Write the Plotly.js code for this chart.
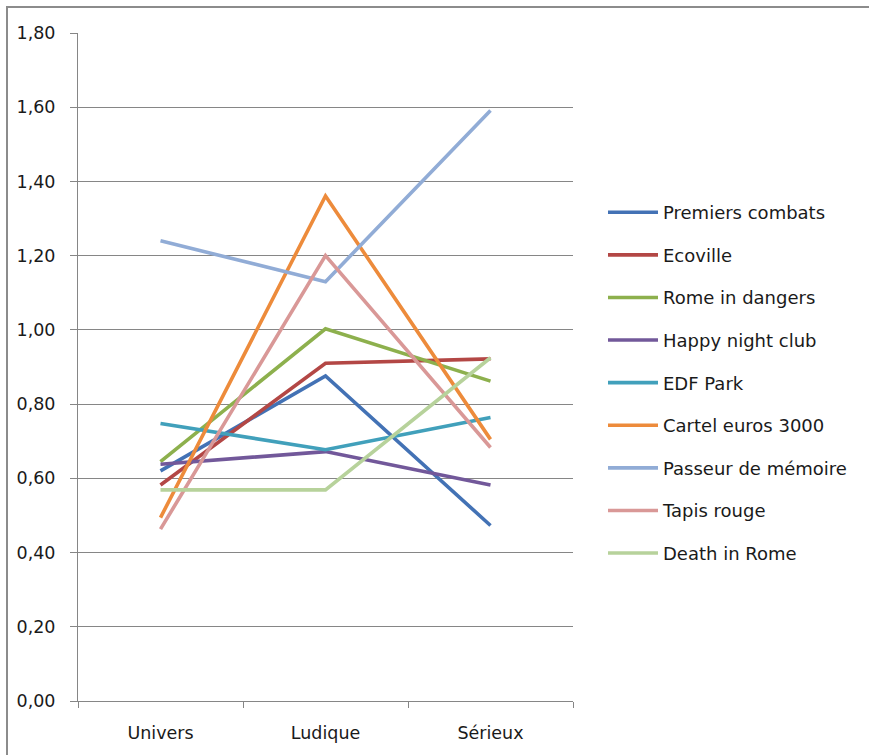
<!DOCTYPE html>
<html>
<head>
<meta charset="utf-8">
<script src="https://cdn.plot.ly/plotly-3.0.1.min.js"></script>
<style>
  html, body { margin: 0; padding: 0; background: #fff; }
  #frame { position: absolute; left: 6px; top: 6px; width: 880px; height: 770px;
           border-top: 2px solid #8c8c8c; border-left: 2px solid #8c8c8c; }
  #chart { position: absolute; left: 0; top: 0; width: 869px; height: 755px; }
</style>
</head>
<body>
<div id="frame"></div>
<div id="chart"></div>
<script>
const categories = ["Univers", "Ludique", "Sérieux"];
const seriesNames = ["Premiers combats", "Ecoville", "Rome in dangers", "Happy night club",
  "EDF Park", "Cartel euros 3000", "Passeur de mémoire", "Tapis rouge", "Death in Rome"];
const premiersCombats = [0.62, 0.876, 0.473];
const ecoville = [0.582, 0.91, 0.922];
const romeInDangers = [0.645, 1.003, 0.862];
const happyNightClub = [0.638, 0.672, 0.582];
const edfPark = [0.748, 0.677, 0.764];
const cartelEuros3000 = [0.494, 1.361, 0.705];
const passeurDeMemoire = [1.24, 1.13, 1.591];
const tapisRouge = [0.463, 1.20, 0.683];
const deathInRome = [0.569, 0.569, 0.925];
const yTicks = [0, 0.2, 0.4, 0.6, 0.8, 1.0, 1.2, 1.4, 1.6, 1.8];

const seriesValues = [premiersCombats, ecoville, romeInDangers, happyNightClub, edfPark,
  cartelEuros3000, passeurDeMemoire, tapisRouge, deathInRome];
const colors = ["#4372b5", "#b34745", "#8db04d", "#72589a", "#41a0bb",
  "#ed8b3b", "#91acd6", "#d99897", "#b7d29b"];

const traces = seriesNames.map((name, i) => ({
  type: "scatter", mode: "lines", name: name,
  x: categories, y: seriesValues[i],
  line: { color: colors[i], width: 3.6 },
  legendgroup: "g" + i,
  hoverinfo: "x+y+name"
}));

const layout = {
  width: 869, height: 755,
  margin: { l: 78, r: 296, t: 33, b: 54 },
  paper_bgcolor: "rgba(0,0,0,0)", plot_bgcolor: "rgba(0,0,0,0)",
  separators: ",.",
  font: { family: "DejaVu Sans, sans-serif", size: 17, color: "#1a1a1a" },
  showlegend: true,
  legend: {
    x: 1.0606, xanchor: "left", y: 0.476, yanchor: "middle",
    font: { size: 18, color: "#1a1a1a" },
    tracegroupgap: 16.2, itemwidth: 50,
    bgcolor: "rgba(0,0,0,0)"
  },
  xaxis: {
    type: "category", range: [-0.5, 2.5],
    showline: true, linecolor: "#868686", linewidth: 1,
    ticks: "outside", tickson: "boundaries", ticklen: 6, tickcolor: "#868686",
    ticklabelstandoff: 16,
    showgrid: false, zeroline: false,
    tickfont: { size: 17.5, color: "#1a1a1a" }
  },
  yaxis: {
    range: [0, 1.8], tickvals: yTicks, tickformat: ".2f",
    showline: true, linecolor: "#868686", linewidth: 1,
    ticks: "outside", ticklen: 7, tickcolor: "#868686",
    ticklabelstandoff: 11,
    showgrid: true, gridcolor: "#868686", gridwidth: 1,
    zeroline: false,
    tickfont: { size: 17.5, color: "#1a1a1a" }
  }
};

Plotly.newPlot("chart", traces, layout, { displayModeBar: false, staticPlot: true });
</script>
</body>
</html>
